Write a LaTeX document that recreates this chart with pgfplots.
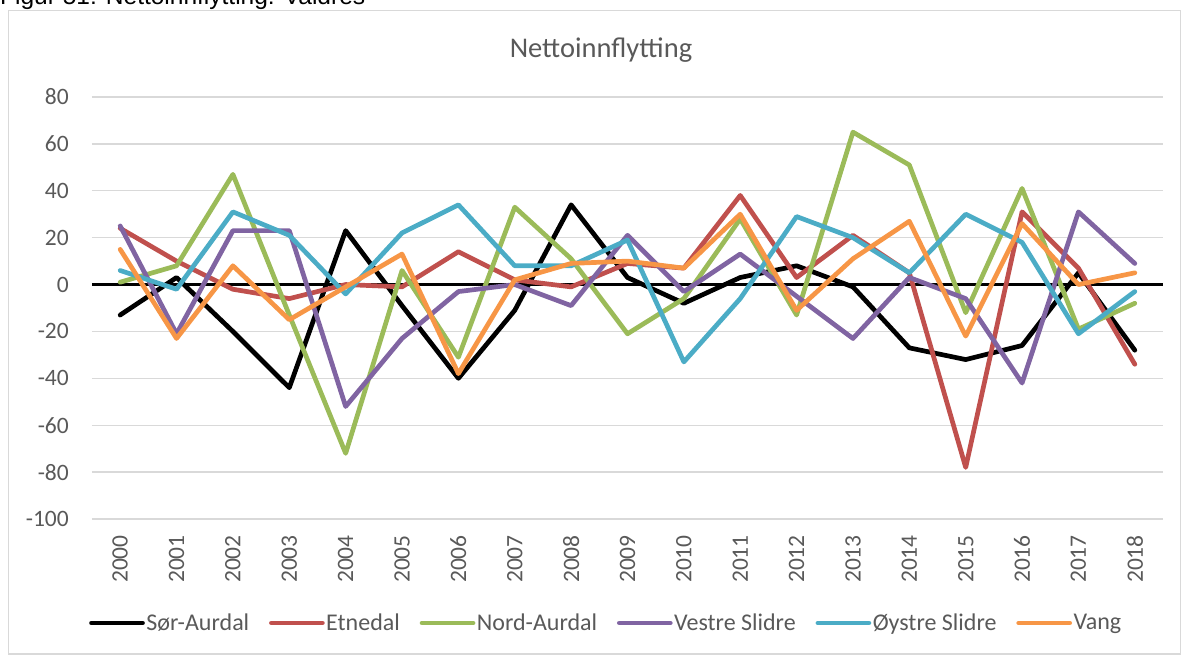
\documentclass[border=0pt]{standalone}
\usepackage{pgfplots}
\pgfplotsset{compat=1.18}
\usepackage{fontspec}
\setmainfont{Carlito}
\newfontfamily\capfont{Liberation Sans}
\definecolor{txt}{RGB}{89,89,89}
\definecolor{gridc}{RGB}{217,217,217}
\definecolor{etn}{RGB}{192,80,77}
\definecolor{nord}{RGB}{155,187,89}
\definecolor{vestre}{RGB}{128,100,162}
\definecolor{oystre}{RGB}{75,172,198}
\definecolor{vang}{RGB}{247,150,70}
\begin{document}
\begin{tikzpicture}[x=1pt,y=1pt]
\useasboundingbox (0,0) rectangle (1181,655);
\draw[gridc, line width=1.3pt] (8.5,1) rectangle (1180.3,644.5);
\node[anchor=base west, inner sep=0pt, font=\capfont\fontsize{24.5}{29}\selectfont] at (0,650.5) {Figur 51: Nettoinnflytting: Valdres};
\node[font=\fontsize{28.5}{34}\selectfont, text=txt, anchor=base, inner sep=0pt] at (601,597) {Nettoinnflytting};
\begin{axis}[
  at={(92pt,136pt)}, anchor=south west,
  width=1071pt, height=422pt, scale only axis,
  xmin=-0.5, xmax=18.5, ymin=-100, ymax=80,
  xtick={0,...,18},
  xticklabels={2000,2001,2002,2003,2004,2005,2006,2007,2008,2009,2010,2011,2012,2013,2014,2015,2016,2017,2018},
  ytick={-100,-80,...,80},
  yticklabels={-100,-80,-60,-40,-20,0,20,40,60,80},
  axis line style={draw=none}, major tick length=0pt,
  ymajorgrids, grid style={gridc, line width=1.3pt},
  extra y ticks={0}, extra y tick labels={},
  extra y tick style={grid style={black, line width=3pt}},
  tick label style={font=\fontsize{23.5}{28}\selectfont, text=txt},
  yticklabel style={anchor=east, inner sep=0pt},
  yticklabel shift=23pt,
  xticklabel style={rotate=90, anchor=east, inner sep=0pt},
  xticklabel shift=16pt,
  every axis plot/.append style={line width=4.7pt, line join=round, line cap=round, mark=none},
  legend columns=6,
  legend style={draw=none, fill=none, at={(-0.00266,-0.2464)}, anchor=west,
    inner sep=0pt, outer sep=0pt, font=\fontsize{24}{28}\selectfont, text=txt,
    nodes={inner sep=0pt},
    /tikz/every odd column/.append style={column sep=1.5pt},
    /tikz/every even column/.append style={column sep=19.8pt}},
  legend image code/.code={\draw[#1, line width=4.7pt, line cap=round] (0pt,0pt) -- (51pt,0pt);},
]
\addplot[black] coordinates {(0,-13)(1,3)(2,-20)(3,-44)(4,23)(5,-9)(6,-40)(7,-11)(8,34)(9,3)(10,-8)(11,3)(12,8)(13,-1)(14,-27)(15,-32)(16,-26)(17,5)(18,-28)};
\addlegendentry{Sør-Aurdal}
\addplot[etn] coordinates {(0,24)(1,10)(2,-2)(3,-6)(4,0)(5,-1)(6,14)(7,2)(8,-1)(9,9)(10,7)(11,38)(12,3)(13,21)(14,5)(15,-78)(16,31)(17,7)(18,-34)};
\addlegendentry{Etnedal}
\addplot[nord] coordinates {(0,1)(1,8)(2,47)(3,-13)(4,-72)(5,6)(6,-31)(7,33)(8,11)(9,-21)(10,-6)(11,28)(12,-13)(13,65)(14,51)(15,-12)(16,41)(17,-19)(18,-8)};
\addlegendentry{Nord-Aurdal}
\addplot[vestre] coordinates {(0,25)(1,-21)(2,23)(3,23)(4,-52)(5,-23)(6,-3)(7,0)(8,-9)(9,21)(10,-3)(11,13)(12,-5)(13,-23)(14,3)(15,-6)(16,-42)(17,31)(18,9)};
\addlegendentry{Vestre Slidre}
\addplot[oystre] coordinates {(0,6)(1,-2)(2,31)(3,21)(4,-4)(5,22)(6,34)(7,8)(8,8)(9,19)(10,-33)(11,-6)(12,29)(13,20)(14,5)(15,30)(16,18)(17,-21)(18,-3)};
\addlegendentry{Øystre Slidre}
\addplot[vang] coordinates {(0,15)(1,-23)(2,8)(3,-15)(4,-1)(5,13)(6,-38)(7,2)(8,9)(9,10)(10,7)(11,30)(12,-11)(13,11)(14,27)(15,-22)(16,26)(17,0)(18,5)};
\addlegendentry{Vang}
\end{axis}
\end{tikzpicture}
\end{document}
